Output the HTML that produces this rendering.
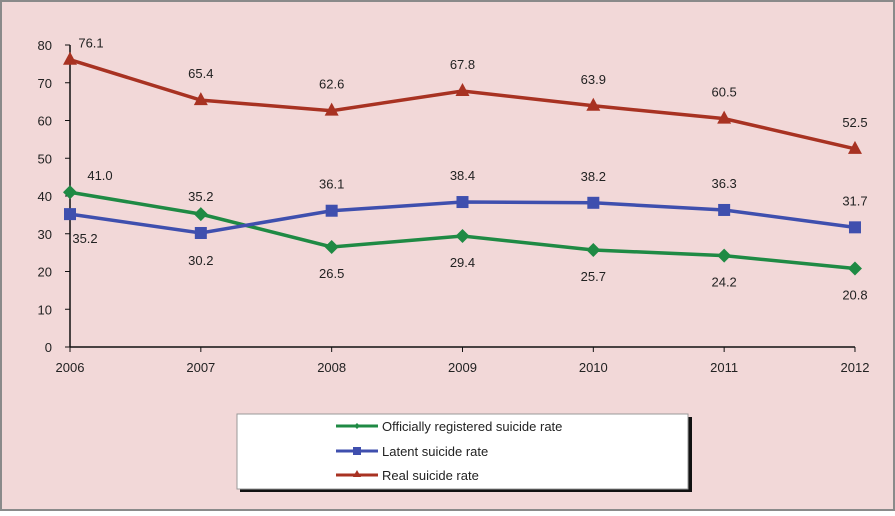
<!DOCTYPE html>
<html><head><meta charset="utf-8"><style>
body{margin:0;background:#fff}
#c{position:relative;width:895px;height:511px}
svg text{font-family:"Liberation Sans",sans-serif;font-size:13px;fill:#222}
</style></head><body>
<div id="c">
<svg id="s" width="895" height="511" xmlns="http://www.w3.org/2000/svg">
<rect x="1" y="1" width="893" height="509" fill="#f2d8d8" stroke="#8a8a8a" stroke-width="2"/>
<g id="axes"></g><g id="series"></g>
<g>
<rect x="240" y="417" width="452" height="75" fill="#111"/>
<rect x="237" y="414" width="451" height="75" fill="#fff" stroke="#999"/>
<g><line x1="336" y1="426" x2="378" y2="426" stroke="#1f8a44" stroke-width="3"/><path d="M357 423l3 3-3 3-3-3z" fill="#1f8a44"/><text x="382" y="431">Officially registered suicide rate</text></g>
<g><line x1="336" y1="451" x2="378" y2="451" stroke="#3f4fae" stroke-width="3"/><rect x="353" y="447" width="8" height="8" fill="#3f4fae"/><text x="382" y="456">Latent suicide rate</text></g>
<g><line x1="336" y1="475" x2="378" y2="475" stroke="#a83222" stroke-width="3"/><path d="M357 470l4 7h-8z" fill="#a83222"/><text x="382" y="480">Real suicide rate</text></g>
</g>
</svg></div>
<script>
const years=["2006","2007","2008","2009","2010","2011","2012"];
const official=[41.0,35.2,26.5,29.4,25.7,24.2,20.8];
const latent=[35.2,30.2,36.1,38.4,38.2,36.3,31.7];
const real=[76.1,65.4,62.6,67.8,63.9,60.5,52.5];
const yTicks=[0,10,20,30,40,50,60,70,80];
const NS="http://www.w3.org/2000/svg";
const X=i=>70+i*130.83, Y=v=>347-v*3.775;
function mk(t,a,p){const e=document.createElementNS(NS,t);for(const k in a)e.setAttribute(k,a[k]);p.appendChild(e);return e;}
const ax=document.getElementById('axes'),sg=document.getElementById('series');
let yl=mk('line',{x1:70,y1:Y(80),x2:70,y2:Y(0),stroke:'#111','stroke-width':1.5},ax);


let xl=mk('line',{x1:70,y1:Y(0),x2:X(6),y2:Y(0),stroke:'#111','stroke-width':1.5},ax);


yTicks.forEach(v=>{mk('line',{x1:65,y1:Y(v),x2:70,y2:Y(v),stroke:'#111'},ax);
const t=mk('text',{x:52,y:Y(v)+5,'text-anchor':'end'},ax);t.textContent=v;

});
years.forEach((y,i)=>{mk('line',{x1:X(i),y1:Y(0),x2:X(i),y2:Y(0)+5,stroke:'#111'},ax);
const t=mk('text',{x:X(i),y:Y(0)+25,'text-anchor':'middle'},ax);t.textContent=y;

});
function series(data,color,shape,name,labelPos){
const g=mk('g',{},sg);


mk('polyline',{points:data.map((v,i)=>X(i)+','+Y(v)).join(' '),fill:'none',stroke:color,'stroke-width':3.5},g);
data.forEach((v,i)=>{const x=X(i),y=Y(v);let m;
if(shape==='d')m=mk('path',{d:`M${x} ${y-7}l7 7-7 7-7-7z`,fill:color},g);
else if(shape==='s')m=mk('rect',{x:x-6,y:y-6,width:12,height:12,fill:color},g);
else m=mk('path',{d:`M${x} ${y-8}l7 13h-14z`,fill:color},g);


const p=labelPos(i);const t=mk('text',{x:x+p[0],y:y+p[1],'text-anchor':'middle'},g);t.textContent=v.toFixed(1);

});}
series(real,'#a83222','t','series-real',i=>i===0?[21,-12]:[0,-22]);
series(official,'#1f8a44','d','series-official',i=>i===0?[30,-12]:i===1?[0,-13]:[0,31]);
series(latent,'#3f4fae','s','series-latent',i=>i===0?[15,29]:i===1?[0,32]:[0,-22]);
</script></body></html>
